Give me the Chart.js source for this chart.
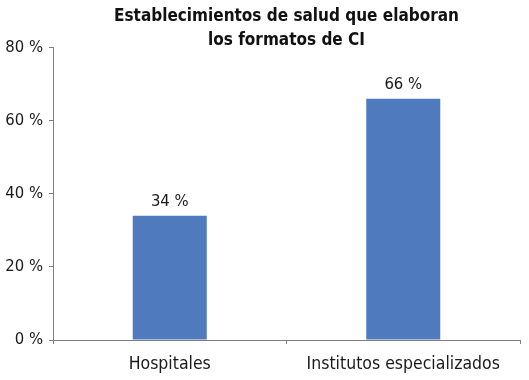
<!DOCTYPE html>
<html>
<head>
<meta charset="utf-8">
<script src="https://cdn.jsdelivr.net/npm/chart.js@4/dist/chart.umd.min.js"></script>
<style>
html,body{margin:0;padding:0;background:#fff;}
#wrap{width:529px;height:380px;position:relative;}
</style>
</head>
<body>
<div id="wrap"><canvas id="c" width="529" height="380"></canvas></div>
<script>
const titleLines = ["Establecimientos de salud que elaboran", "los formatos de CI"];
const categories = ["Hospitales", "Institutos especializados"];
const values = [34, 66];
const yTicks = [0, 20, 40, 60, 80];

const FONT = "'DejaVu Sans Condensed', 'Liberation Sans Narrow', 'Arial Narrow', sans-serif";
const AXIS = "#808080";
const BAR = "#4f7bbe";

const titleCenter = {
  id: 'titleCenter',
  afterLayout(chart) {
    if (chart.titleBlock) {
      chart.titleBlock.left = chart.chartArea.left;
      chart.titleBlock.right = chart.chartArea.right;
    }
  }
};

const valueLabels = {
  id: 'valueLabels',
  afterDatasetsDraw(chart) {
    const ctx = chart.ctx;
    const meta = chart.getDatasetMeta(0);
    ctx.save();
    ctx.font = "16.5px " + FONT;
    ctx.fillStyle = "#1a1a1a";
    ctx.textAlign = "center";
    ctx.textBaseline = "alphabetic";
    meta.data.forEach((bar, i) => {
      ctx.fillText(values[i] + " %", bar.x, bar.y - 10);
    });
    ctx.restore();
  }
};

new Chart(document.getElementById('c'), {
  type: 'bar',
  data: {
    labels: categories,
    datasets: [{
      data: values,
      backgroundColor: BAR,
      borderWidth: 0,
      categoryPercentage: 0.317,
      barPercentage: 1.0
    }]
  },
  plugins: [titleCenter, valueLabels],
  options: {
    responsive: false,
    animation: false,
    layout: { padding: { left: 4, right: 9, top: 0, bottom: 4 } },
    plugins: {
      legend: { display: false },
      tooltip: { enabled: false },
      title: {
        display: true,
        text: titleLines,
        color: "#111",
        font: { family: FONT, size: 17, weight: 'bold', lineHeight: 1.4 },
        padding: { top: 5, bottom: -5 }
      }
    },
    scales: {
      y: {
        min: 0,
        max: 80,
        afterBuildTicks(scale) { scale.ticks = yTicks.map(v => ({ value: v })); },
        afterFit(scale) { scale.width = 49; },
        ticks: {
          callback: (v) => v + " %",
          color: "#1a1a1a",
          font: { family: FONT, size: 16.5 },
          padding: 6
        },
        grid: {
          drawOnChartArea: false,
          drawTicks: true,
          tickLength: 4,
          color: AXIS,
          lineWidth: 1
        },
        border: { display: true, color: AXIS, width: 1 }
      },
      x: {
        offset: true,
        afterFit(scale) { scale.height = 36; },
        ticks: {
          color: "#1a1a1a",
          font: { family: FONT, size: 17.5 },
          padding: 10
        },
        grid: {
          offset: true,
          drawOnChartArea: false,
          drawTicks: true,
          tickLength: 4,
          color: AXIS,
          lineWidth: 1
        },
        border: { display: true, color: AXIS, width: 1 }
      }
    }
  }
});
</script>
</body>
</html>
